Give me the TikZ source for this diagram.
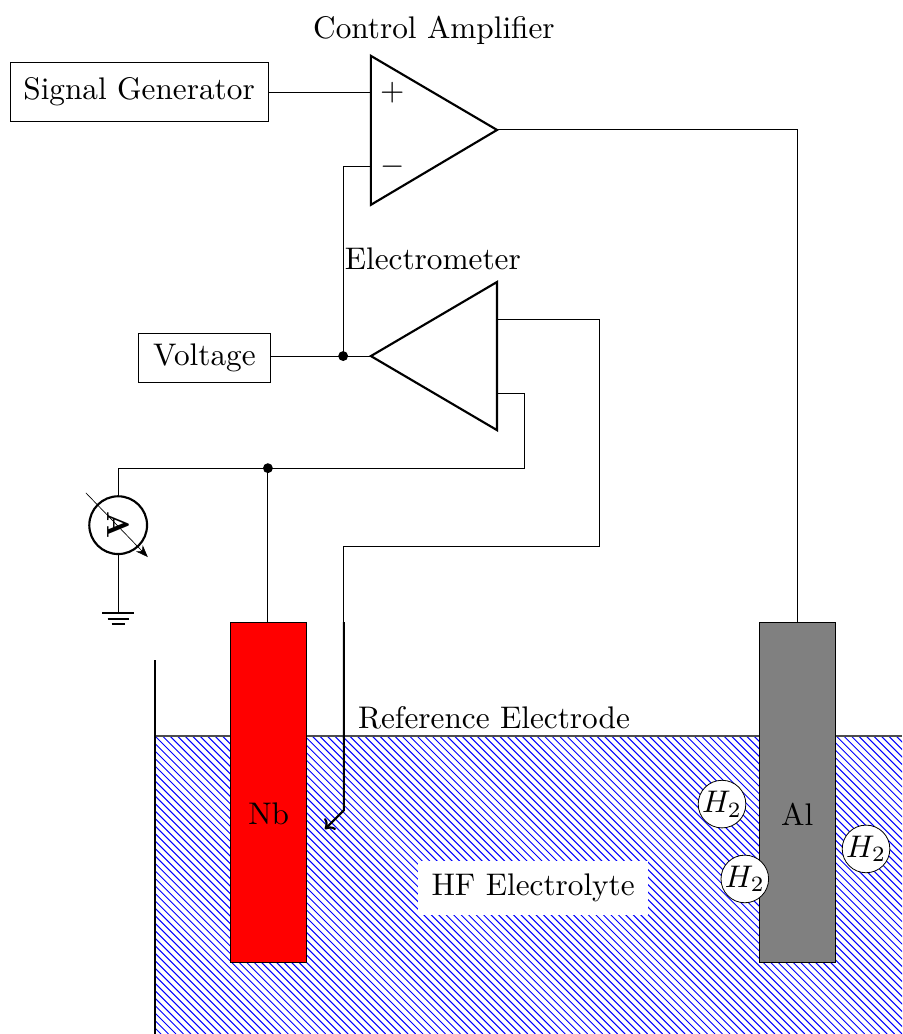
\documentclass[tikz,border=0pt]{standalone}
\usetikzlibrary{arrows,arrows.meta,positioning,shapes.geometric}
\tikzset{
    %Define standard arrow tip
    >=stealth',
    %Define style for boxes
    box/.style={
           rectangle,
           draw=black, line width=0.7pt,
           scale=2.34,
           minimum height=0.551cm,
           text centered},
    label/.style={
           scale=2.34,
           inner sep=0pt},
    electrode/.style={
           rectangle,
           draw=black, line width=0.8pt,
           minimum width=2cm,
           minimum height=8.95cm},
    bubble/.style={
           circle,
           draw=black, line width=0.6pt,
           fill=white,
           inner sep=0pt,
           scale=2.34,
           minimum size=0.52cm},
    % Define wire styles
    wire/.style={
           line width=0.7pt},
    heavy/.style={
           line width=1.6pt},
    hatch/.style={
           draw=blue,
           line width=0.75pt},
    amp/.style={
           line width=1.6pt,
           line join=miter},
    junction/.style={
           circle,
           fill=black,
           inner sep=0pt,
           minimum size=0.26cm}
}
\begin{document}
\begin{tikzpicture}
    \useasboundingbox (0,0) rectangle (23.74,27.21);
 %bath
    \begin{scope}
        \clip (4.08,0) rectangle (23.74,7.84);
        \foreach \d in {-3.8,-3.603,...,23.8}
            \draw[hatch] (\d,7.84) -- ++(7.84,-7.84);
    \end{scope}
    \coordinate (surfleft) at (4.08,7.84);
    \coordinate (surfright) at (23.74,7.84);
    \coordinate (walltop) at (4.08,9.84);
    \coordinate (wallend) at (4.08,0);
    \draw[draw=black!70, line width=1pt] (surfleft) -- (surfright);
    \draw[heavy] (walltop) -- (wallend);
 %nodes
    \node[box, minimum width=2.9cm, minimum height=0.662cm] (signal) at (3.66,24.80) {Signal Generator};
    \node[box, minimum width=1.474cm] (voltage) at (5.38,17.80) {Voltage};
    \node[electrode, fill=red] (nb) at (7.07,6.35) {};
    \node[electrode, fill=gray] (al) at (20.98,6.35) {};
    \node[label] (nblabel) at (7.07,5.79) {Nb};
    \node[label] (allabel) at (20.98,5.79) {Al};
    \node[label] (reflabel) at (13,8.32) {Reference Electrode};
    \node[label, fill=white, minimum width=2.585cm, minimum height=0.598cm] (hf) at (14.03,3.84) {HF Electrolyte};
    \node[bubble] (ha) at (19,6.05) {$H_2$};
    \node[bubble] (hb) at (19.6,4.08) {$H_2$};
    \node[bubble] (hc) at (22.79,4.87) {$H_2$};
 %control amplifier
    \coordinate (cat) at (9.76,25.74);
    \coordinate (cab) at (9.76,21.82);
    \coordinate (caout) at (13.08,23.79);
    \coordinate (caplus) at (9.76,24.77);
    \coordinate (caminus) at (9.76,22.82);
    \draw[amp] (cat) -- (caout) -- (cab) -- cycle;
    \node[label] (plus) at (10.32,24.77) {$+$};
    \node[label] (minus) at (10.32,22.82) {$-$};
    \node[label] (calabel) at (11.42,26.42) {Control Amplifier};
 %electrometer
    \coordinate (emin) at (9.76,17.84);
    \coordinate (emt) at (13.08,19.79);
    \coordinate (emb) at (13.08,15.89);
    \coordinate (emup) at (13.08,18.80);
    \coordinate (emlow) at (13.08,16.85);
    \draw[amp] (emin) -- (emt) -- (emb) -- cycle;
    \node[label] (emlabel) at (11.39,20.39) {Electrometer};
 %ammeter
    \node[circle, draw=black, line width=1.6pt, minimum size=1.52cm, inner sep=0pt] (meter) at (3.11,13.39) {};
    \node[label, rotate=-90] (meterA) at (meter.center) {\bfseries A};
    \coordinate (mstart) at (2.26,14.24);
    \coordinate (mend) at (3.89,12.55);
    \draw[line width=0.5pt, -{Stealth[length=3.2mm,width=2.4mm]}] (mstart) -- (mend);
 %ground
    \coordinate (gnd) at (3.11,11.08);
    \coordinate (gndb) at (3.11,10.92);
    \coordinate (gndc) at (3.11,10.79);
    \draw[heavy] ([xshift=-0.42cm]gnd) -- ([xshift=0.42cm]gnd);
    \draw[heavy] ([xshift=-0.28cm]gndb) -- ([xshift=0.28cm]gndb);
    \draw[heavy] ([xshift=-0.17cm]gndc) -- ([xshift=0.17cm]gndc);
 %junctions
    \node[junction] (ja) at (9.03,17.84) {};
    \node[junction] (jb) at (7.05,14.89) {};
 %edges
    \coordinate (bend) at (9.05,5.89);
    \coordinate (tip) at (8.55,5.39);
    \coordinate (reftop) at (9.05,10.84);
    \coordinate (lowright) at (13.79,14.89);
    \coordinate (upright) at (15.78,12.84);
    \draw[wire] (signal.east |- caplus) -- (caplus);
    \draw[wire] (caout) -| (al.north);
    \draw[wire] (caminus) -| (ja.center);
    \draw[wire] (voltage.east |- emin) -- (emin);
    \draw[wire] (emlow) -| (lowright) -| (meter.north);
    \draw[wire] (jb.center) -- (jb |- nb.north);
    \draw[wire] (emup) -| (upright) -| (reftop);
    \draw[wire] (meter.south) -- (gnd);
    \draw[heavy, -{To[length=2.2mm,width=4.2mm]}] (reftop) -- (bend) -- (tip);
\end{tikzpicture}
\end{document}
